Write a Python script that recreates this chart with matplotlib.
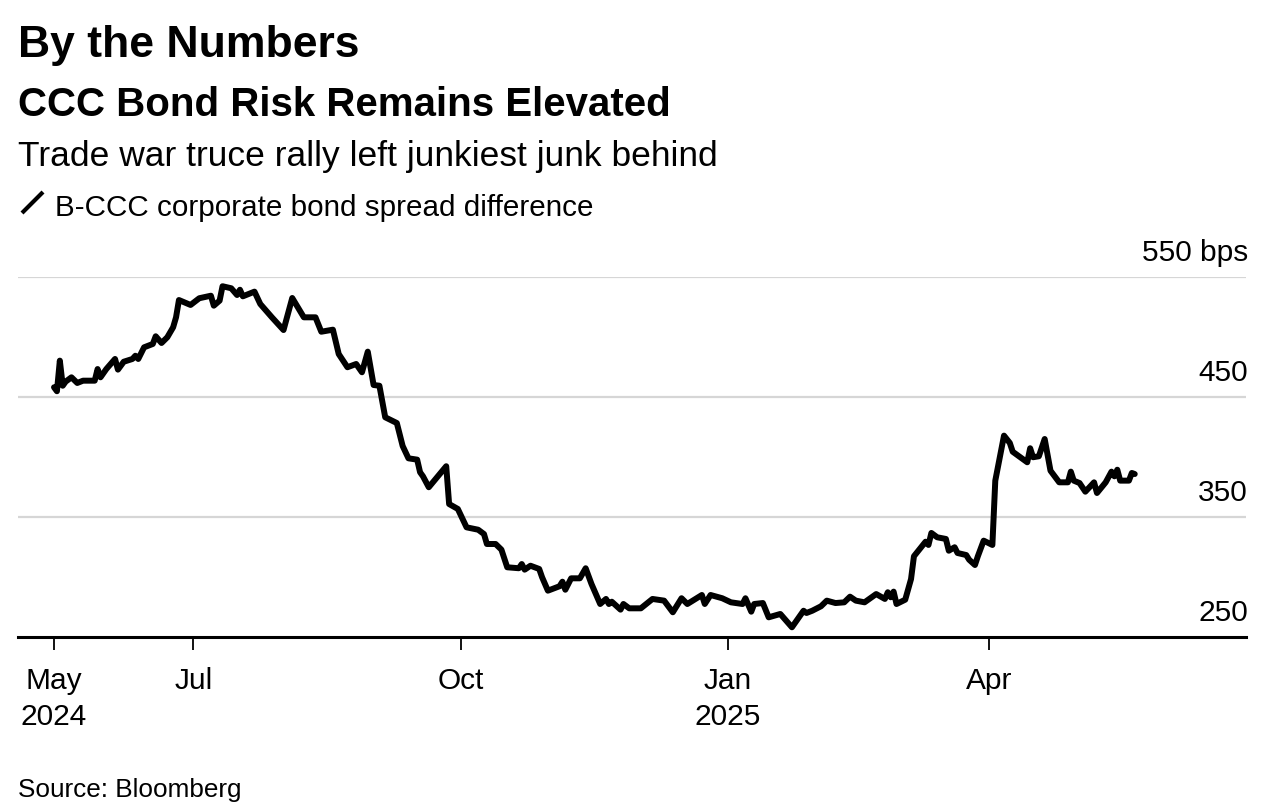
import pandas as pd
import matplotlib
matplotlib.use("Agg")
import matplotlib.pyplot as plt
from matplotlib.lines import Line2D

plt.rcParams['font.family'] = ['Liberation Sans', 'DejaVu Sans']

# B-CCC spread difference
start_date = "2024-05-14"
day_offsets = [
    0, 1, 2, 3, 4, 6, 8, 10, 14, 15,
    16, 18, 21, 22, 24, 27, 28, 29, 31, 34,
    35, 37, 39, 41, 42, 43, 47, 50, 54, 55,
    57, 58, 61, 63, 64, 65, 69, 71, 73, 75,
    79, 82, 86, 90, 92, 96, 98, 101, 104, 106,
    108, 110, 112, 114, 118, 120, 122, 125, 126, 127,
    129, 135, 136, 139, 142, 146, 148, 149, 152, 154,
    156, 160, 161, 162, 164, 167, 168, 170, 174, 175,
    176, 178, 181, 183, 185, 188, 190, 191, 192, 195,
    196, 198, 202, 206, 210, 213, 216, 218, 223, 224,
    226, 230, 233, 237, 238, 240, 241, 244, 246, 250,
    254, 258, 259, 261, 264, 266, 269, 272, 274, 276,
    279, 283, 286, 287, 288, 289, 290, 293, 295, 296,
    300, 301, 302, 304, 307, 308, 310, 311, 314, 315,
    317, 318, 320, 323, 324, 327, 329, 330, 335, 336,
    337, 339, 341, 343, 346, 349, 350, 351, 353, 355,
    358, 359, 362, 364, 365, 366, 367, 370, 371, 372,
]
spread_bps = [
    458.1, 454.8, 480.3, 459.4, 462.8, 466.4, 461.7, 463.6, 463.6, 473.3,
    466.4, 473.3, 481.7, 472.8, 479.4, 481.7, 484.4, 481.7, 491.4, 494.2,
    500.6, 495.0, 499.8, 508.1, 516.4, 530.8, 526.7, 532.3, 534.4, 526.1,
    530.3, 542.3, 540.6, 535.0, 539.4, 533.9, 537.8, 527.5, 521.9, 516.4,
    505.8, 532.5, 516.4, 516.4, 504.4, 506.1, 485.8, 474.8, 477.5, 470.6,
    487.8, 460.0, 459.4, 433.1, 428.3, 409.2, 398.9, 397.8, 387.3, 383.9,
    374.8, 392.3, 360.8, 356.7, 341.4, 339.4, 335.8, 327.5, 327.5, 322.8,
    308.1, 307.3, 310.8, 306.1, 309.4, 306.7, 299.8, 288.6, 292.3, 296.1,
    289.4, 298.9, 298.9, 307.3, 294.2, 277.5, 281.7, 277.5, 279.4, 272.8,
    277.5, 273.9, 273.9, 281.7, 280.3, 270.6, 282.3, 277.5, 285.0, 277.5,
    285.0, 282.3, 278.9, 277.5, 282.3, 271.1, 277.5, 278.3, 266.4, 269.2,
    258.1, 271.9, 270.0, 271.9, 275.6, 280.3, 278.3, 278.9, 283.6, 280.3,
    278.9, 285.8, 281.7, 287.3, 283.1, 287.8, 277.5, 281.1, 298.3, 317.3,
    329.4, 326.7, 336.7, 333.1, 331.7, 321.9, 324.8, 320.0, 318.3, 314.4,
    310.0, 317.3, 330.3, 326.7, 380.3, 417.8, 411.7, 404.4, 395.6, 407.3,
    399.8, 400.6, 415.0, 388.6, 378.9, 378.9, 387.8, 380.3, 378.3, 371.1,
    378.9, 370.0, 378.9, 387.8, 383.9, 389.4, 380.3, 380.3, 386.7, 385.8,
]

tick_dates = ["2024-05-14", "2024-07-01", "2024-10-01", "2025-01-01", "2025-04-01"]
tick_labels = ["May\n2024", "Jul", "Oct", "Jan\n2025", "Apr"]
y_levels = [250, 350, 450, 550]
y_labels = ["250", "350", "450", "550 bps"]

dates = pd.Timestamp(start_date) + pd.to_timedelta(day_offsets, unit="D")

W, H = 1262, 804
fig = plt.figure(figsize=(W / 100, H / 100), dpi=100)
ax = fig.add_axes([18 / W, 1 - 638 / H, (1246 - 18) / W, (638 - 278) / H])

# grid
for lv in y_levels[1:]:
    ax.axhline(lv, color="#d6d6d6", lw=1.6, zorder=1)

ax.plot(dates, spread_bps, color="black", lw=4.3, solid_joinstyle="round",
        solid_capstyle="round", zorder=3, clip_on=False)

ax.set_ylim(250, 550)
ax.set_xlim(pd.Timestamp(start_date) - pd.Timedelta(days=12.4),
            pd.Timestamp(start_date) + pd.Timedelta(days=410.3))

for side in ["top", "right", "left"]:
    ax.spines[side].set_visible(False)
ax.spines["bottom"].set_linewidth(2.2)
ax.spines["bottom"].set_color("black")

ax.set_yticks([])
ax.set_xticks(pd.to_datetime(tick_dates))
ax.set_xticklabels(tick_labels, fontsize=21.5, linespacing=1.35)
ax.tick_params(axis="x", length=9, width=1.3, color="black", pad=12)

for lv, lab in zip(y_levels, y_labels):
    ax.annotate(lab, xy=(1.0, lv), xycoords=("axes fraction", "data"),
                xytext=(1.5, 12), textcoords="offset points",
                ha="right", va="baseline", fontsize=21.5)

# headers
fig.text(18 / W, 1 - 57 / H, "By the Numbers", fontsize=32, fontweight="bold", va="baseline")
fig.text(18 / W, 1 - 116 / H, "CCC Bond Risk Remains Elevated", fontsize=29, fontweight="bold", va="baseline")
fig.text(18 / W, 1 - 166 / H, "Trade war truce rally left junkiest junk behind", fontsize=25.5, va="baseline")
fig.text(55 / W, 1 - 216 / H, "B-CCC corporate bond spread difference", fontsize=21.3, va="baseline")
fig.add_artist(Line2D([22 / W, 43 / W], [1 - 214 / H, 1 - 193 / H], color="black", lw=3.0,
                      solid_capstyle="butt", transform=fig.transFigure))

fig.text(18 / W, 1 - 797 / H, "Source: Bloomberg", fontsize=18.8, va="baseline")

fig.savefig("out.png", dpi=100)
